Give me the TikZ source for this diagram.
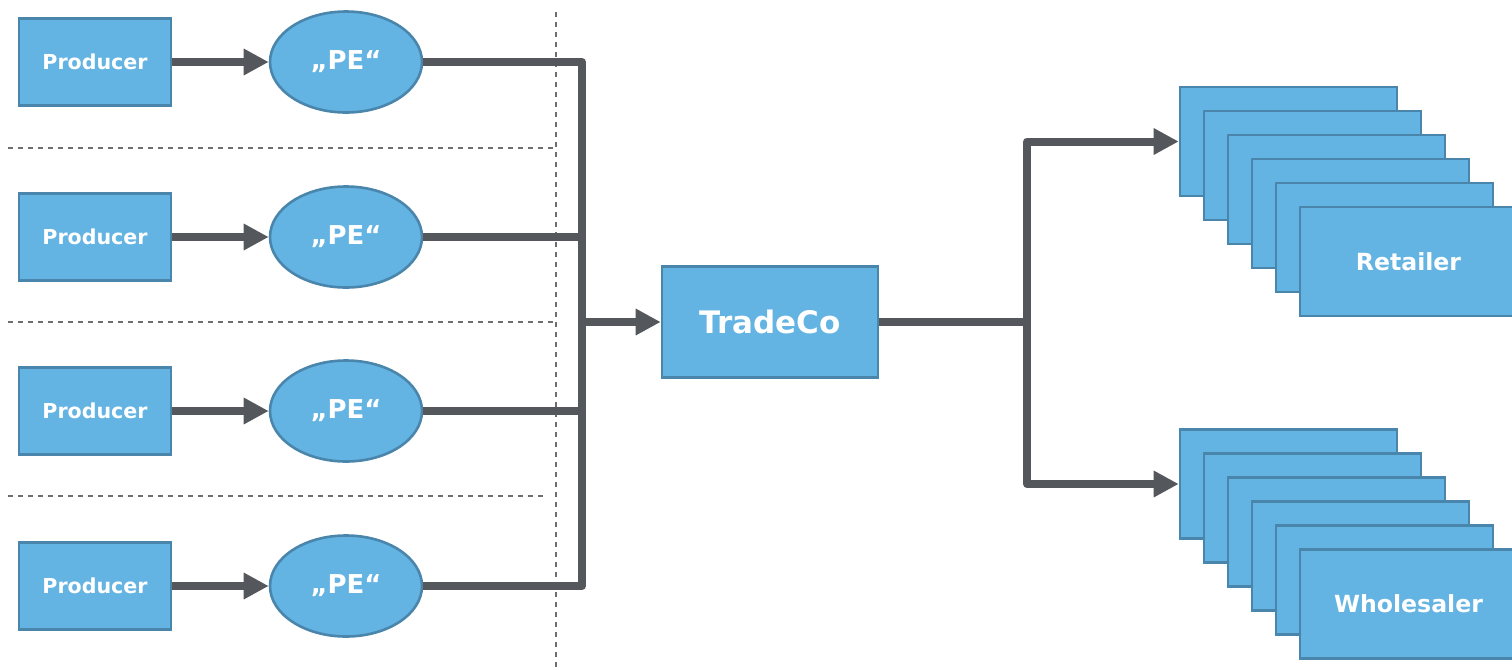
\documentclass[tikz,border=0pt]{standalone}
\usepackage{fontspec}
\setmainfont{DejaVu Sans}
\usetikzlibrary{arrows.meta,shapes.geometric}
\definecolor{boxfill}{HTML}{63B3E3}
\definecolor{boxline}{HTML}{4A86AC}
\definecolor{conncol}{HTML}{54575C}
\definecolor{dashcol}{HTML}{6E6E6E}
\tikzset{
  blue box/.style={draw=boxline, fill=boxfill, line width=1.3pt, rectangle, inner sep=0pt, text=white, font=\bfseries},
  prodbox/.style={blue box, minimum width=76pt, minimum height=43.5pt, font=\bfseries\fontsize{10.3}{12}\selectfont},
  pebox/.style={blue box, ellipse, minimum width=76pt, minimum height=50.5pt, font=\bfseries\fontsize{13}{15}\selectfont},
  tradebox/.style={blue box, minimum width=108pt, minimum height=55.5pt, font=\bfseries\fontsize{15.5}{18}\selectfont},
  stackbox/.style={blue box, minimum width=108.5pt, minimum height=54.5pt, font=\bfseries\fontsize{11.8}{14}\selectfont},
  conn/.style={draw=conncol, line width=4pt, line join=round},
  arr/.style={conn, -{Triangle[length=12.5pt,width=12.5pt]}},
  sep/.style={draw=dashcol, line width=0.75pt, dash pattern=on 2.5pt off 2.5pt},
}
\begin{document}
\begin{tikzpicture}[x=0.5pt,y=-0.5pt]
\useasboundingbox (0,0) rectangle (1512,670);
\clip (0,0) rectangle (1512,670);
% separators
\draw[sep] (556,12) -- (556,670);
\draw[sep] (8,148) -- (556,148);
\draw[sep] (8,322) -- (556,322);
\draw[sep] (8,496) -- (547,496);
% producers and PE
\foreach \i/\y in {1/62,2/237,3/411,4/586}{
  \node[prodbox] (p\i) at (95,\y) {Producer};
  \node[pebox] (pe\i) at (346,\y) {„PE“};
}
% TradeCo
\node[tradebox] (tc) at (770,322) {TradeCo};
% stacks
\foreach \k in {1,...,5}{
  \node[stackbox] (r\k) at ({1288.5+24*(\k-1)},{141.5+24*(\k-1)}) {};
  \node[stackbox] (w\k) at ({1288.5+24*(\k-1)},{484+24*(\k-1)}) {};
}
\node[stackbox] (r6) at (1408.5,261.5) {Retailer};
\node[stackbox] (w6) at (1408.5,604) {Wholesaler};
% coordinates
\coordinate (jL) at (582,322);
\coordinate (jR) at (1027,322);
% connectors
\foreach \i in {1,...,4}{
  \draw[arr] (p\i.east) -- (pe\i.west);
  \draw[conn] (pe\i.east) -| (jL);
}
\draw[arr] (jL) -- (tc.west);
\draw[conn] (tc.east) -- (jR);
\draw[arr] (jR) |- (r1.west);
\draw[arr] (jR) |- (w1.west);
\end{tikzpicture}
\end{document}
